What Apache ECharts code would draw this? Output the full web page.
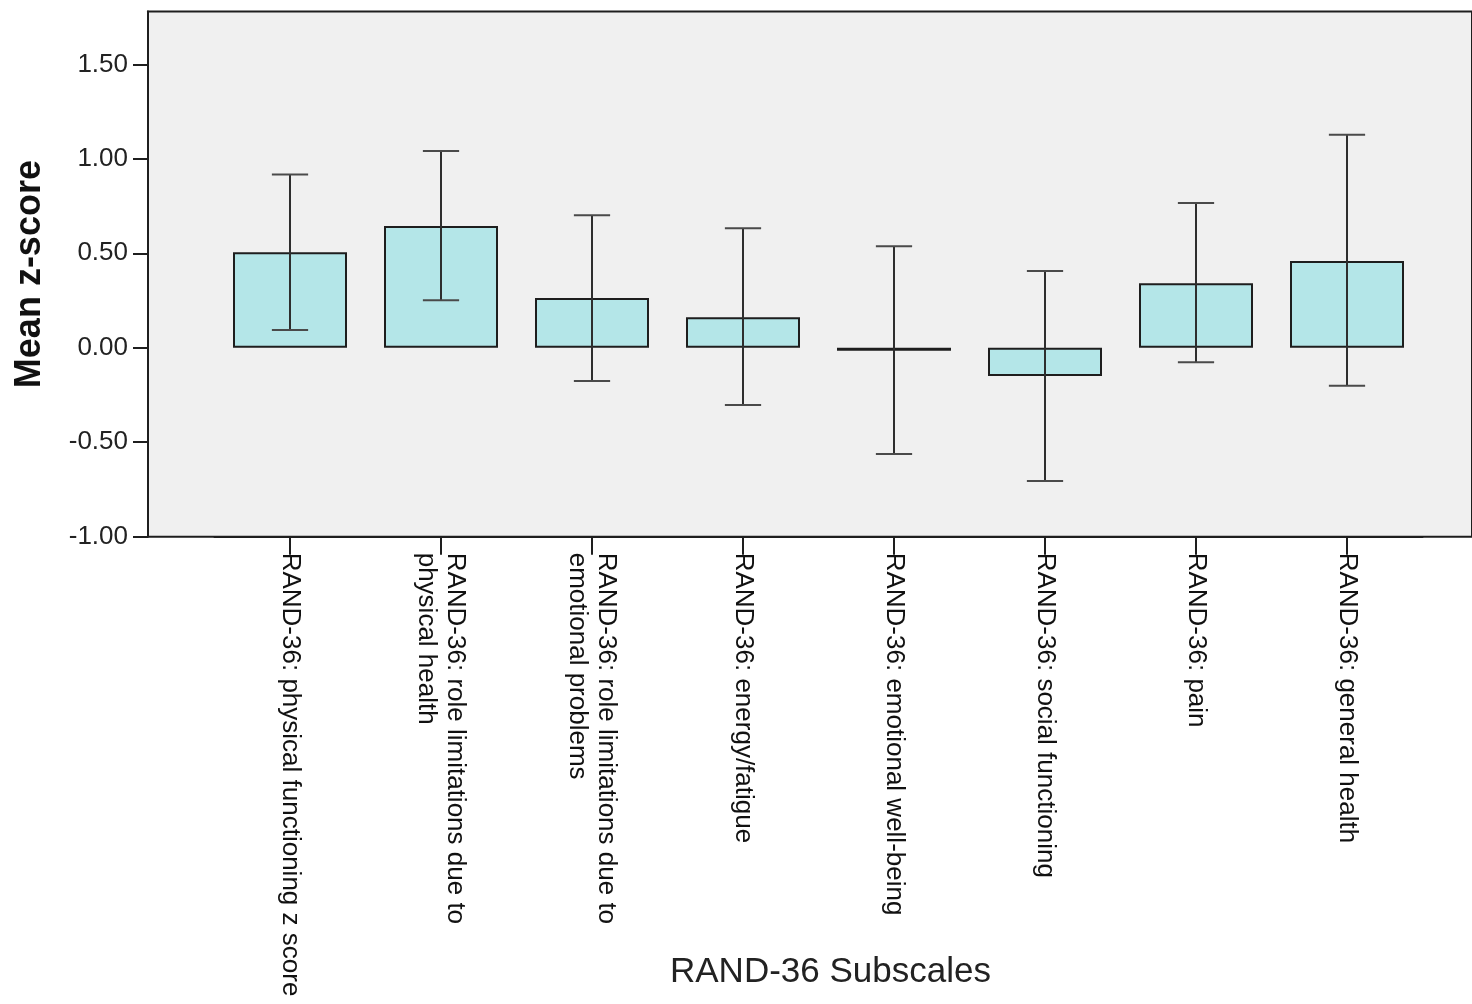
<!DOCTYPE html>
<html>
<head>
<meta charset="utf-8">
<title>RAND-36 Subscales</title>
<script src="https://cdn.jsdelivr.net/npm/echarts@6/dist/echarts.min.js"></script>
<style>
  html, body { margin: 0; padding: 0; background: #ffffff; }
  #chart { width: 1472px; height: 1004px; }
</style>
</head>
<body>
<div id="chart"></div>
<script>
// Subscale names (category axis)
const categories = [
  'RAND-36: physical functioning z score',
  'RAND-36: role limitations due to\nphysical health',
  'RAND-36: role limitations due to\nemotional problems',
  'RAND-36: energy/fatigue',
  'RAND-36: emotional well-being',
  'RAND-36: social functioning',
  'RAND-36: pain',
  'RAND-36: general health'
];

// Mean z-score per subscale
const means = [0.505, 0.644, 0.263, 0.162, -0.016, -0.150, 0.342, 0.460];

// Error bar limits
const ciLower = [0.094, 0.252, -0.176, -0.303, -0.562, -0.705, -0.076, -0.201];
const ciUpper = [0.917, 1.041, 0.702, 0.633, 0.538, 0.406, 0.766, 1.127];

// Y axis tick values
const yTicks = [-1, -0.5, 0, 0.5, 1, 1.5];

const FONT = '"Liberation Sans", Arial, sans-serif';
const INK = '#1e1e1e';
const Y_MIN = -1;
const Y_MAX = 1.78;

const chart = echarts.init(document.getElementById('chart'), null, { renderer: 'canvas' });

const option = {
  animation: false,
  backgroundColor: '#ffffff',
  title: {
    text: 'RAND-36 Subscales',
    left: 670, top: 955, padding: 0,
    textStyle: { fontFamily: FONT, fontSize: 35, fontWeight: 'normal', color: '#222' }
  },
  grid: [
    // plot frame with grey background
    { left: 148, top: 11.5, right: -41, bottom: 467.3, show: true,
      backgroundColor: '#f0f0f0', borderColor: INK, borderWidth: 2 },
    // area holding the category bands
    { left: 214.5, top: 11.5, right: 49.5, bottom: 467.3 }
  ],
  xAxis: [
    {
      gridIndex: 0, type: 'value', min: 0, max: 1,
      axisLine: { show: false }, axisTick: { show: false },
      axisLabel: { show: false }, splitLine: { show: false }
    },
    {
      gridIndex: 1, type: 'category', data: categories,
      axisLine: { show: true, onZero: false, lineStyle: { color: INK, width: 2 } },
      axisTick: { show: true, alignWithLabel: true, length: 18,
                  lineStyle: { color: INK, width: 2 } },
      axisLabel: { interval: 0, rotate: -90, margin: 16, fontFamily: FONT,
                   fontSize: 26, lineHeight: 29, color: '#111' },
      splitLine: { show: false }
    }
  ],
  yAxis: [
    {
      gridIndex: 0, type: 'value', min: Y_MIN, max: Y_MAX, interval: 0.5,
      axisLine: { show: true, lineStyle: { color: INK, width: 2 } },
      axisTick: { show: true, length: 15, customValues: yTicks,
                  lineStyle: { color: INK, width: 2 } },
      axisLabel: { customValues: yTicks, margin: 20, fontFamily: FONT,
                   fontSize: 26, color: '#222',
                   formatter: v => v.toFixed(2) },
      splitLine: { show: false },
      name: 'Mean z-score', nameLocation: 'middle', nameGap: 100, nameRotate: 90,
      nameTextStyle: { fontFamily: FONT, fontSize: 36, fontWeight: 'bold', color: '#111' }
    },
    { gridIndex: 1, type: 'value', min: Y_MIN, max: Y_MAX, show: false }
  ],
  series: [
    {
      type: 'bar', xAxisIndex: 1, yAxisIndex: 1,
      data: means, barWidth: 114,
      itemStyle: { color: '#b4e6e8', borderColor: INK, borderWidth: 2 },
      z: 2
    },
    {
      type: 'custom', xAxisIndex: 1, yAxisIndex: 1,
      data: categories.map((c, i) => [i, ciLower[i], ciUpper[i]]),
      z: 3,
      renderItem: (params, api) => {
        const i = api.value(0);
        const lo = api.coord([i, api.value(1)]);
        const hi = api.coord([i, api.value(2)]);
        const half = api.size([1, 0])[0] * 0.12;
        const stem = { stroke: '#2e2e2e', lineWidth: 2 };
        const cap = { stroke: '#4a4a4a', lineWidth: 2 };
        return {
          type: 'group',
          children: [
            { type: 'line', shape: { x1: hi[0], y1: hi[1], x2: lo[0], y2: lo[1] }, style: stem },
            { type: 'line', shape: { x1: hi[0] - half, y1: hi[1], x2: hi[0] + half, y2: hi[1] }, style: cap },
            { type: 'line', shape: { x1: lo[0] - half, y1: lo[1], x2: lo[0] + half, y2: lo[1] }, style: cap }
          ]
        };
      }
    }
  ]
};

chart.setOption(option);
</script>
</body>
</html>
